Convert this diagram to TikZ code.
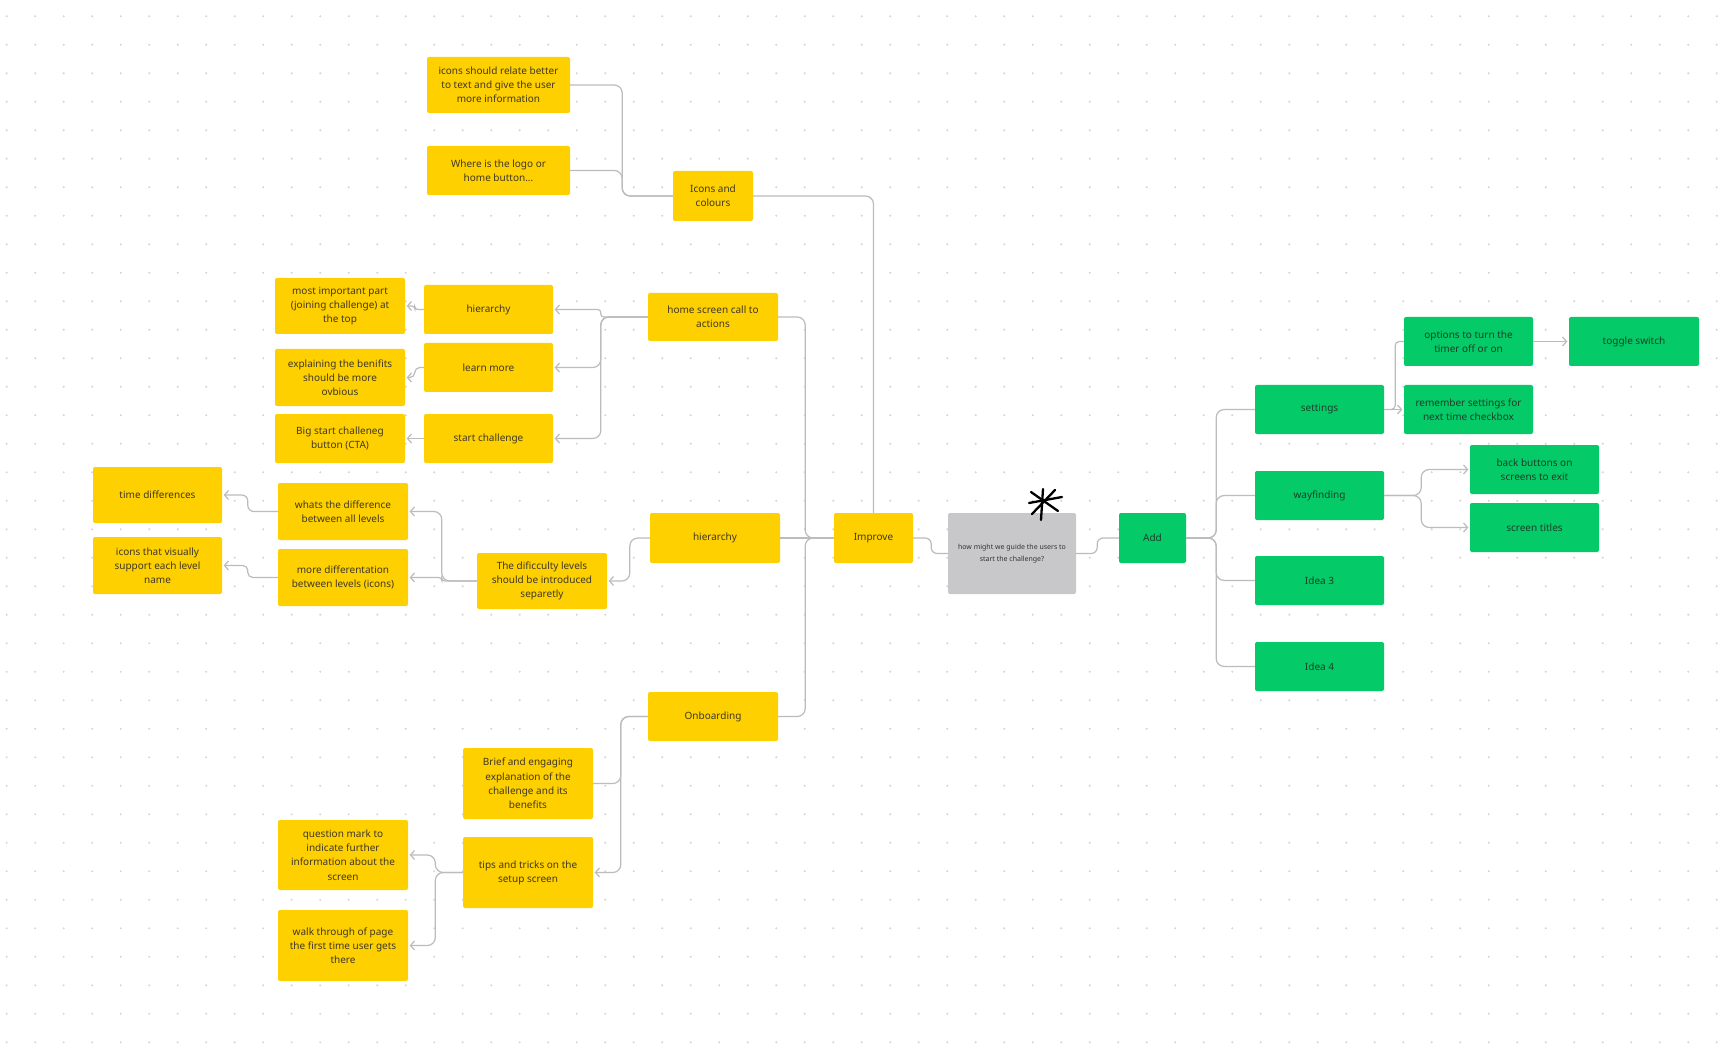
\documentclass[tikz,border=0pt]{standalone}
\usepackage{fontspec}
\setmainfont{Noto Sans}
\usetikzlibrary{arrows.meta}
\definecolor{notey}{RGB}{255,208,0}
\definecolor{noteg}{RGB}{4,202,104}
\definecolor{noteq}{RGB}{200,200,202}
\definecolor{texty}{RGB}{62,56,38}
\definecolor{textg}{RGB}{28,62,42}
\definecolor{linec}{RGB}{188,188,188}
\definecolor{dotc}{RGB}{212,212,212}
\tikzset{
  note/.style={rectangle, rounded corners=2pt, inner sep=0pt, align=center, font=\fontsize{10}{14.2}\selectfont},
  yellownote/.style={note, fill=notey, text=texty, minimum width=130pt, minimum height=49pt},
  greennote/.style={note, fill=noteg, text=textg, minimum width=129pt, minimum height=49pt},
  promptnote/.style={note, fill=noteq, text=black!80, font=\fontsize{7}{11.7}\selectfont},
  link/.style={draw=linec, line width=1.2pt, rounded corners=8pt},
  linkto/.style={link, -{Straight Barb[length=4pt,width=9pt]}, shorten >=1.5pt},
  spark/.style={line width=2.3pt, line cap=round},
}
\begin{document}
\begin{tikzpicture}[x=1pt,y=-1pt]
\fill[white] (0,0) rectangle (1724,1056);
\useasboundingbox (0,0) rectangle (1724,1056);
\foreach \i in {0,...,60}
  \foreach \j in {0,...,36}
    \fill[dotc] (6.7+28.5*\i,16.3+28.5*\j) circle (1.1pt);

\node[yellownote, minimum width=143pt, minimum height=56pt] (icons) at (498.5,85) {icons should relate better\\to text and give the user\\more information};
\node[yellownote, minimum width=143pt] (logo) at (498.5,170.5) {Where is the logo or\\home button...};
\node[yellownote, minimum width=80pt, minimum height=50pt] (iconscol) at (713,196) {Icons and\\colours};
\node[yellownote, minimum height=48pt] (homecta) at (713,317) {home screen call to\\actions};
\node[yellownote, minimum width=129pt] (hierA) at (488.5,309.5) {hierarchy};
\node[yellownote, minimum width=129pt] (learn) at (488.5,367.5) {learn more};
\node[yellownote, minimum width=129pt] (startch) at (488.5,438.5) {start challenge};
\node[yellownote, minimum height=56pt] (mostimp) at (340,306) {most important part\\(joining challenge) at\\the top};
\node[yellownote, minimum height=57pt] (explain) at (340,377.5) {explaining the benifits\\should be more\\ovbious};
\node[yellownote] (bigstart) at (340,438.5) {Big start challeneg\\button (CTA)};
\node[yellownote, minimum height=50pt] (hierB) at (715,538) {hierarchy};
\node[yellownote, minimum height=56pt] (difficulty) at (542,581) {The dificculty levels\\should be introduced\\separetly};
\node[yellownote, minimum height=57pt] (whats) at (343,511.5) {whats the difference\\between all levels};
\node[yellownote, minimum height=57pt] (morediff) at (343,577.5) {more differentation\\between levels (icons)};
\node[yellownote, minimum width=129pt, minimum height=56pt] (timediff) at (157.5,495) {time differences};
\node[yellownote, minimum width=129pt, minimum height=57pt] (iconsvis) at (157.5,565.5) {icons that visually\\support each level\\name};
\node[yellownote, minimum width=79pt, minimum height=50pt] (improve) at (873.5,538) {Improve};
\node[yellownote] (onboard) at (713,716.5) {Onboarding};
\node[yellownote, minimum height=71pt] (brief) at (528,783.5) {Brief and engaging\\explanation of the\\challenge and its\\benefits};
\node[yellownote, minimum height=71pt] (tips) at (528,872.5) {tips and tricks on the\\setup screen};
\node[yellownote, minimum height=70pt] (question) at (343,855) {question mark to\\indicate further\\information about the\\screen};
\node[yellownote, minimum height=71pt] (walk) at (343,945.5) {walk through of page\\the first time user gets\\there};

\node[promptnote, minimum width=128pt, minimum height=81pt] (prompt) at (1012,553.5) {how might we guide the users to\\start the challenge?};

\node[greennote, minimum width=67pt, minimum height=50pt] (add) at (1152.5,538) {Add};
\node[greennote] (settings) at (1319.5,409.5) {settings};
\node[greennote] (wayfind) at (1319.5,495.5) {wayfinding};
\node[greennote] (idea3) at (1319.5,580.5) {Idea 3};
\node[greennote] (idea4) at (1319.5,666.5) {Idea 4};
\node[greennote] (options) at (1468.5,341.5) {options to turn the\\timer off or on};
\node[greennote, minimum width=130pt] (toggle) at (1634,341.5) {toggle switch};
\node[greennote] (remember) at (1468.5,409.5) {remember settings for\\next time checkbox};
\node[greennote] (backbtn) at (1534.5,469.5) {back buttons on\\screens to exit};
\node[greennote] (titles) at (1534.5,527.5) {screen titles};

\draw[link] (icons.east) -- ++(52,0) |- (iconscol.west);
\draw[link] (logo.east) -- ++(52,0) |- (iconscol.west);
\draw[link] (iconscol.east) -| (improve.north);
\draw[link] (homecta.east) -- ++(27,0) |- (improve.west);
\draw[link] (hierB.east) -- (improve.west);
\draw[link] (onboard.east) -- ++(27,0) |- (improve.west);
\draw[link, rounded corners=6pt] (improve.east) -- ++(18,0) |- (prompt.west);
\draw[link, rounded corners=6pt] (prompt.east) -- ++(21,0) |- (add.west);

\draw[link] (add.east) -- ++(30,0) |- (settings.west);
\draw[link] (add.east) -- ++(30,0) |- (wayfind.west);
\draw[link] (add.east) -- ++(30,0) |- (idea3.west);
\draw[link] (add.east) -- ++(30,0) |- (idea4.west);
\draw[link, rounded corners=4pt] (settings.east) -- ++(11,0) |- (options.west);
\draw[linkto] (settings.east) -- (remember.west);
\draw[linkto] (options.east) -- (toggle.west);
\draw[linkto] (wayfind.east) -- ++(37,0) |- (backbtn.west);
\draw[linkto] (wayfind.east) -- ++(37,0) |- (titles.west);

\draw[linkto, rounded corners=3pt] (homecta.west) -- ++(-47,0) |- (hierA.east);
\draw[linkto] (homecta.west) -- ++(-47,0) |- (learn.east);
\draw[linkto] (homecta.west) -- ++(-47,0) |- (startch.east);
\draw[linkto, rounded corners=3pt] (hierA.west) -- ++(-9,0) |- (mostimp.east);
\draw[linkto, rounded corners=5pt] (learn.west) -- ++(-9,0) |- (explain.east);
\draw[linkto] (startch.west) -- (bigstart.east);

\draw[linkto] (hierB.west) -- ++(-20,0) |- (difficulty.east);
\draw[linkto] (difficulty.west) -- ++(-35,0) |- (whats.east);
\draw[linkto, rounded corners=3pt] (difficulty.west) -- ++(-35,0) |- (morediff.east);
\draw[linkto, rounded corners=6pt] (whats.west) -- ++(-30,0) |- (timediff.east);
\draw[linkto, rounded corners=5pt] (morediff.west) -- ++(-30,0) |- (iconsvis.east);

\draw[link] (onboard.west) -- ++(-27,0) |- (brief.east);
\draw[linkto] (onboard.west) -- ++(-27,0) |- (tips.east);
\draw[linkto] (tips.west) -- ++(-27.5,0) |- (question.east);
\draw[linkto] (tips.west) -- ++(-27.5,0) |- (walk.east);

\draw[spark] (1043,489) -- (1041,520);
\draw[spark] (1029,503) -- (1062,497);
\draw[spark] (1031,492) -- (1058,511);
\draw[spark] (1055,490) -- (1032,514);
\end{tikzpicture}
\end{document}
